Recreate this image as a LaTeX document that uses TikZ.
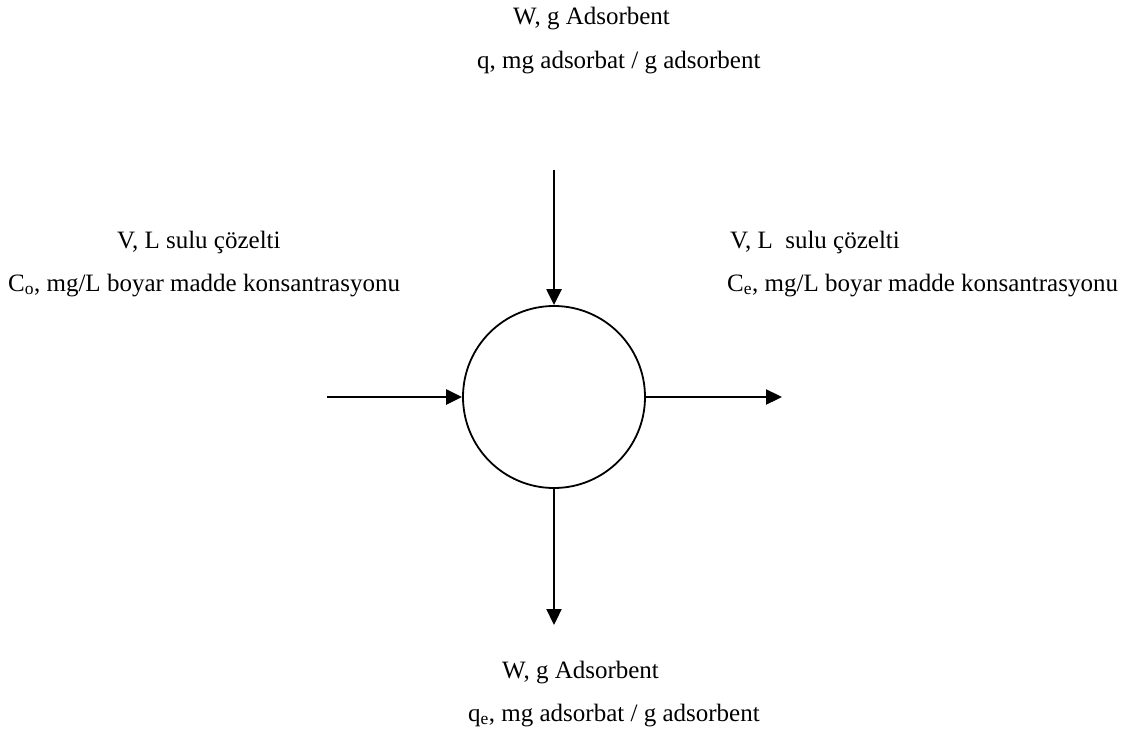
\documentclass[tikz,border=0pt]{standalone}
\usepackage{fontspec}
\setmainfont{Liberation Serif}
\usetikzlibrary{arrows.meta}
\begin{document}
\begin{tikzpicture}[x=1pt,y=-1pt,
  lbl/.style={anchor=base west,inner sep=0pt,font=\fontsize{25}{30}\selectfont},
  flow/.style={line width=2.3pt,-{Triangle[length=16pt,width=15pt]}},
  tank/.style={circle,draw,line width=1.8pt,minimum size=182pt,inner sep=0pt}]
\useasboundingbox (0,0) rectangle (1130,733);
\node[tank] (c) at (554,397) {};
\coordinate (topstart) at (554,170);
\coordinate (leftstart) at (327,397);
\coordinate (rightend) at (782,397);
\coordinate (bottomend) at (554,625);
\draw[flow] (topstart) -- (c.north);
\draw[flow] (leftstart) -- (c.west);
\draw[flow] (c.east) -- (rightend);
\draw[flow] (c.south) -- (bottomend);
\node[lbl] (t1) at (513,25) {W, g Adsorbent};
\node[lbl] (t2) at (477,69) {q, mg adsorbat / g adsorbent};
\node[lbl] (l1) at (117,248) {V, L sulu çözelti};
\node[lbl] (l2) at (8,291) {C\textsubscript{o}, mg/L boyar madde konsantrasyonu};
\node[lbl] (r1) at (730,248) {V, L\ \ sulu çözelti};
\node[lbl] (r2) at (727,291) {C\textsubscript{e}, mg/L boyar madde konsantrasyonu};
\node[lbl] (b1) at (502,678) {W, g Adsorbent};
\node[lbl] (b2) at (468,721) {q\textsubscript{e}, mg adsorbat / g adsorbent};
\end{tikzpicture}
\end{document}
